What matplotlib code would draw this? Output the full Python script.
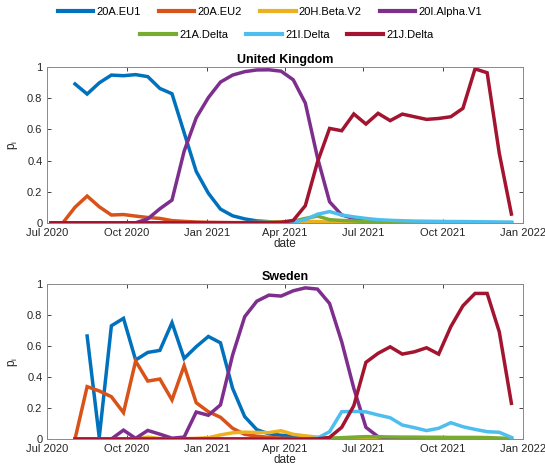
import numpy as np
import matplotlib
matplotlib.use("Agg")
import matplotlib.pyplot as plt

plt.rcParams['font.family'] = ['Liberation Sans', 'DejaVu Sans']
plt.rcParams['font.size'] = 8

# biweekly sample dates
dates = np.datetime64('2020-07-05') + np.arange(39) * np.timedelta64(14, 'D')
nan = np.nan

variants = ["20A.EU1", "20A.EU2", "20H.Beta.V2", "20I.Alpha.V1",
            "21A.Delta", "21I.Delta", "21J.Delta"]
colors = ["#0072BD", "#D95319", "#EDB120", "#7E2F8E",
          "#77AC30", "#4DBEEE", "#A2142F"]

# United Kingdom
uk_eu1 = [nan, nan, 0.893, 0.828, 0.90, 0.95, 0.946, 0.953, 0.94, 0.864,
          0.83, 0.58, 0.33, 0.19, 0.088, 0.045, 0.025, 0.012, 0.007, 0.004,
          0.002, 0.001, 0.001, 0.001, 0, 0, 0, 0, 0, 0,
          0, 0, 0, 0, 0, 0, 0, 0, 0]
uk_eu2 = [0, 0, 0.10, 0.172, 0.103, 0.05, 0.053, 0.043, 0.034, 0.028,
          0.014, 0.009, 0.005, 0.003, 0.002, 0.001, 0.001, 0.001, 0, 0,
          0, 0, 0, 0, 0, 0, 0, 0, 0, 0,
          0, 0, 0, 0, 0, 0, 0, 0, 0]
uk_beta = [0, 0, 0, 0, 0, 0, 0, 0, 0, 0,
           0, 0, 0, 0, 0, 0, 0, 0.002, 0.004, 0.006,
           0.008, 0.01, 0.008, 0.004, 0.002, 0.001, 0, 0, 0, 0,
           0, 0, 0, 0, 0, 0, 0, 0, 0]
uk_alpha = [0, 0, 0, 0, 0, 0, 0, 0, 0.025, 0.09,
            0.146, 0.46, 0.675, 0.805, 0.905, 0.95, 0.972, 0.983, 0.984, 0.975,
            0.92, 0.77, 0.42, 0.135, 0.05, 0.028, 0.01, 0.005, 0.003, 0.002,
            0.001, 0.001, 0, 0, 0, 0, 0, 0, 0]
uk_21a = [0, 0, 0, 0, 0, 0, 0, 0, 0, 0,
          0, 0, 0, 0, 0, 0, 0, 0, 0, 0.002,
          0.01, 0.028, 0.043, 0.02, 0.015, 0.012, 0.007, 0.005, 0.003, 0.002,
          0.002, 0.001, 0.001, 0.001, 0.001, 0.001, 0.001, 0.001, 0.001]
uk_21i = [0, 0, 0, 0, 0, 0, 0, 0, 0, 0,
          0, 0, 0, 0, 0, 0, 0, 0, 0, 0,
          0.003, 0.02, 0.055, 0.072, 0.05, 0.038, 0.028, 0.02, 0.016, 0.013,
          0.011, 0.01, 0.009, 0.008, 0.008, 0.007, 0.006, 0.005, 0.004]
uk_21j = [0, 0, 0, 0, 0, 0, 0, 0, 0, 0,
          0, 0, 0, 0, 0, 0, 0, 0, 0, 0.003,
          0.015, 0.11, 0.39, 0.607, 0.592, 0.70, 0.635, 0.704, 0.657, 0.699,
          0.682, 0.665, 0.671, 0.682, 0.736, 0.99, 0.965, 0.447, 0.056]

# Sweden
se_eu1 = [nan, nan, nan, 0.665, 0.01, 0.731, 0.779, 0.51, 0.559, 0.572,
          0.751, 0.52, 0.596, 0.662, 0.621, 0.327, 0.144, 0.06, 0.033, 0.024,
          0.018, 0.01, 0.006, 0.004, 0.002, 0.001, 0.001, 0, 0, 0,
          0, 0, 0, 0, 0, 0, 0, 0, 0]
se_eu2 = [nan, nan, 0, 0.338, 0.31, 0.273, 0.17, 0.503, 0.374, 0.387,
          0.252, 0.473, 0.234, 0.176, 0.14, 0.069, 0.03, 0.018, 0.01, 0.005,
          0.003, 0.002, 0, 0, 0, 0, 0, 0, 0, 0,
          0, 0, 0, 0, 0, 0, 0, 0, 0]
se_beta = [nan, nan, 0, 0, 0, 0, 0, 0, 0.012, 0.003,
           0, 0.002, 0.004, 0.008, 0.026, 0.04, 0.044, 0.042, 0.041, 0.053,
           0.03, 0.02, 0.012, 0.006, 0.004, 0.003, 0.002, 0.001, 0.001, 0.001,
           0, 0, 0, 0, 0, 0, 0, 0, 0]
se_alpha = [nan, nan, 0, 0, 0, 0, 0.057, 0.004, 0.055, 0.031,
            0.005, 0.012, 0.174, 0.153, 0.22, 0.542, 0.79, 0.89, 0.929, 0.923,
            0.957, 0.976, 0.968, 0.875, 0.628, 0.327, 0.075, 0.015, 0.004, 0.002,
            0.001, 0.001, 0, 0, 0, 0, 0, 0, 0]
se_21a = [nan, nan, 0, 0, 0, 0, 0, 0, 0, 0,
          0, 0, 0, 0, 0, 0, 0, 0, 0, 0,
          0, 0, 0, 0.004, 0.008, 0.012, 0.015, 0.014, 0.013, 0.012,
          0.012, 0.011, 0.011, 0.01, 0.01, 0.01, 0.009, 0.006, 0.003]
se_21i = [nan, nan, 0, 0, 0, 0, 0, 0, 0, 0,
          0, 0, 0, 0, 0, 0, 0, 0, 0, 0,
          0, 0, 0.005, 0.047, 0.176, 0.178, 0.175, 0.155, 0.137, 0.09,
          0.073, 0.054, 0.069, 0.105, 0.079, 0.062, 0.047, 0.043, 0.01]
se_21j = [nan, nan, 0, 0, 0, 0, 0, 0, 0, 0,
          0, 0, 0, 0, 0, 0, 0, 0, 0, 0,
          0, 0, 0, 0.01, 0.075, 0.215, 0.495, 0.553, 0.595, 0.548,
          0.563, 0.589, 0.548, 0.725, 0.86, 0.94, 0.94, 0.692, 0.23]

countries = ["United Kingdom", "Sweden"]
series = [[uk_eu1, uk_eu2, uk_beta, uk_alpha, uk_21a, uk_21i, uk_21j],
          [se_eu1, se_eu2, se_beta, se_alpha, se_21a, se_21i, se_21j]]

tick_dates = np.array(['2020-07-01', '2020-10-01', '2021-01-01', '2021-04-01',
                       '2021-07-01', '2021-10-01', '2022-01-01'], dtype='datetime64[D]')
tick_labels = ["Jul 2020", "Oct 2020", "Jan 2021", "Apr 2021",
               "Jul 2021", "Oct 2021", "Jan 2022"]
y_ticks = [0, 0.2, 0.4, 0.6, 0.8, 1]
y_labels = ["0", "0.2", "0.4", "0.6", "0.8", "1"]

fig = plt.figure(figsize=(5.45, 4.72), dpi=100)
boxes = [[0.0868, 0.528, 0.8722, 0.3294], [0.0868, 0.070, 0.8722, 0.328]]

lines = []
for i in range(2):
    ax = fig.add_axes(boxes[i])
    for j in range(7):
        l, = ax.plot(dates, series[i][j], c=colors[j], lw=2.5, label=variants[j],
                     solid_joinstyle='miter')
        if i == 0:
            lines.append(l)
    ax.set_xlim(np.datetime64('2020-07-01'), np.datetime64('2022-01-01'))
    ax.set_ylim(0, 1)
    ax.set_xticks(tick_dates)
    ax.set_xticklabels(tick_labels)
    ax.set_yticks(y_ticks)
    ax.set_yticklabels(y_labels)
    ax.tick_params(direction='in', top=True, right=True, length=3, width=0.6,
                   color='#262626', labelcolor='#262626')
    ax.tick_params(axis='x', pad=3.5)
    ax.tick_params(axis='y', pad=3.5)
    for s in ax.spines.values():
        s.set_color('#8a8a8a')
        s.set_linewidth(0.7)
    ax.set_title(countries[i], fontweight='bold', fontsize=9, pad=3)
    ax.set_xlabel("date", fontsize=8.5, labelpad=0, color='#262626')
    ax.set_ylabel(r"p$_\mathregular{i}$", fontsize=8.5, labelpad=5, color='#262626')

leg1 = fig.legend(lines[:4], variants[:4], loc='center', ncol=4,
                  bbox_to_anchor=(270 / 545, 1 - 12 / 472), frameon=False,
                  handlelength=3.2, handletextpad=0.3, columnspacing=1.6)
leg2 = fig.legend(lines[4:], variants[4:], loc='center', ncol=3,
                  bbox_to_anchor=(287 / 545, 1 - 35 / 472), frameon=False,
                  handlelength=3.2, handletextpad=0.3, columnspacing=1.6)
for leg in [leg1, leg2]:
    for h in leg.get_lines():
        h.set_linewidth(3)

fig.savefig("out.png", dpi=100)
